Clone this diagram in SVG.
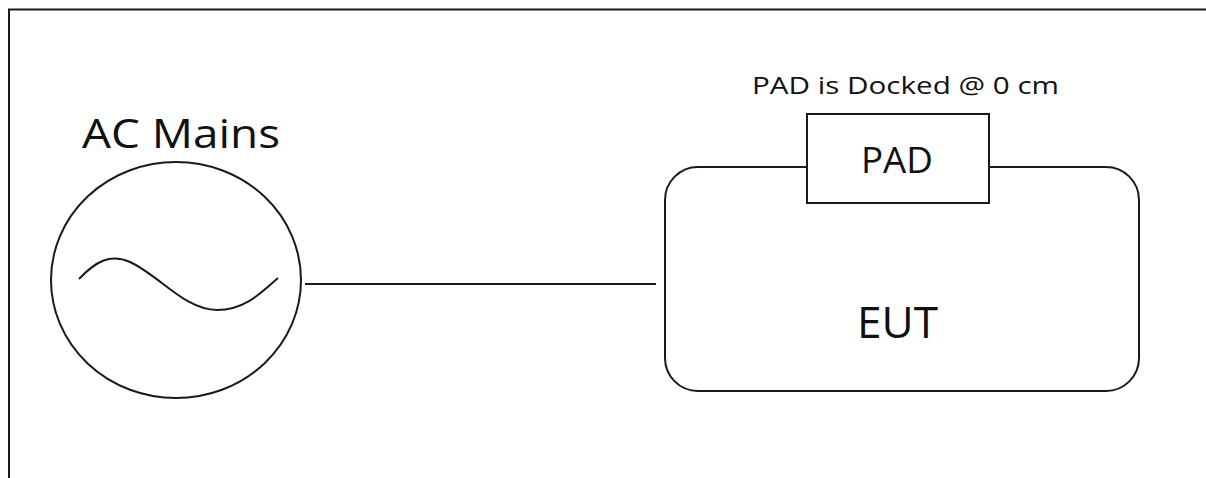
<svg xmlns="http://www.w3.org/2000/svg" width="1206" height="478" viewBox="0 0 1206 478">
<style>
.ln{fill:none;stroke:#1a1a1a;stroke-width:2}
.t{font-family:"Open Sans","Noto Sans","Liberation Sans",sans-serif;fill:#111}
</style>
<rect x="0" y="0" width="1206" height="478" fill="#fff"/>
<path class="ln" d="M9,478 V9.5 H1206"/>
<g id="ac-mains">
<text class="t" x="82" y="148" font-size="40" textLength="198" lengthAdjust="spacingAndGlyphs">AC Mains</text>
<ellipse class="ln" cx="176" cy="280" rx="125" ry="118"/>
<path class="ln" d="M79,279 C95,262 110,253 130,262 C160,276 185,310 217,310 C245,310 262,292 278,278"/>
</g>
<g id="connectors">
<line class="ln" x1="305" y1="284" x2="656" y2="284"/>
</g>
<g id="eut">
<path class="ln" d="M807,167 H698 A33,33 0 0 0 665,200 V358 A33,33 0 0 0 698,391 H1106 A33,33 0 0 0 1139,358 V200 A33,33 0 0 0 1106,167 H989"/>
<text class="t" x="897.5" y="338" font-size="43" text-anchor="middle" textLength="81" lengthAdjust="spacingAndGlyphs">EUT</text>
</g>
<g id="pad">
<text class="t" x="905.5" y="94" font-size="24" text-anchor="middle" textLength="307" lengthAdjust="spacingAndGlyphs">PAD is Docked @ 0 cm</text>
<rect class="ln" x="807" y="114" width="182" height="89"/>
<text class="t" x="897" y="173" font-size="37" text-anchor="middle" textLength="72" lengthAdjust="spacingAndGlyphs">PAD</text>
</g>
</svg>
